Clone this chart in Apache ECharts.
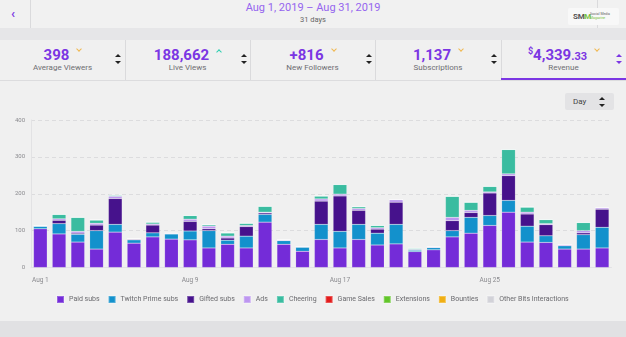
<!DOCTYPE html>
<html>
<head>
<meta charset="utf-8">
<script src="https://cdn.jsdelivr.net/npm/echarts@6/dist/echarts.min.js"></script>
<style>
  html,body{margin:0;padding:0;}
  body{width:626px;height:337px;position:relative;overflow:hidden;background:#efeff0;font-family:Roboto,"Liberation Sans",sans-serif;}
  .abs{position:absolute;}
  #hdr{left:0;top:0;width:626px;height:28px;background:#f1f1f1;box-shadow:0 1px 2px rgba(0,0,0,0.12);}
  #band1{left:0;top:28px;width:626px;height:12px;background:#e6e6e8;}
  #stats{left:0;top:40px;width:626px;height:40px;background:#f0f0f0;border-bottom:1px solid #dcdcde;}
  #chartbg{left:0;top:81px;width:626px;height:240px;background:#f0f0f0;}
  #band2{left:0;top:321px;width:626px;height:16px;background:#e1e1e3;}
  .vline{width:1px;background:#dadadc;}
  .cell{position:absolute;top:40px;height:40px;}
  .val{position:absolute;left:0;right:0;top:6px;text-align:center;font-weight:700;font-size:15px;line-height:18px;color:#7b36e3;white-space:nowrap;}
  .lab{position:absolute;left:0;right:0;top:23px;text-align:center;font-size:8px;line-height:10px;color:#6e6e72;white-space:nowrap;}
  .chev{display:inline-block;width:3px;height:3px;border-right:1.2px solid #f0b850;border-bottom:1.2px solid #f0b850;transform:rotate(45deg);vertical-align:top;margin-left:8px;margin-top:1px;}
  .chev.up{border-color:#2ccfb0;transform:rotate(-135deg);margin-top:4px;}
  .sort{position:absolute;width:6px;height:10px;}
  .sort:before,.sort:after{content:"";position:absolute;left:0;border-left:3px solid transparent;border-right:3px solid transparent;}
  .sort:before{top:0;border-bottom:3.5px solid #222;}
  .sort:after{bottom:0;border-top:3.5px solid #222;}
  .sort.p:before{border-bottom-color:#7b36e3;}
  .sort.p:after{border-top-color:#7b36e3;}
  #chart{left:0;top:0;width:626px;height:337px;}
</style>
</head>
<body>
<div id="hdr" class="abs"></div>
<div id="band1" class="abs"></div>
<div id="stats" class="abs"></div>
<div id="chartbg" class="abs"></div>
<div id="band2" class="abs"></div>

<div class="abs vline" style="left:30px;top:0;height:28px;"></div>
<div class="abs vline" style="left:597px;top:0;height:28px;"></div>
<div class="abs" style="left:11px;top:6px;font-size:13px;font-weight:700;color:#7b36e3;line-height:16px;">‹</div>
<div class="abs" style="left:150px;width:326px;top:1px;text-align:center;font-size:11px;line-height:14px;color:#9565ef;">Aug 1, 2019 – Aug 31, 2019</div>
<div class="abs" style="left:150px;width:326px;top:15px;text-align:center;font-size:7.5px;line-height:9px;color:#666;">31 days</div>
<div class="abs" style="left:568px;top:8px;width:51px;height:17px;background:#f8f8f8;border-radius:2px;"></div>
<div class="abs" style="left:573px;top:11px;font-size:8px;font-weight:700;line-height:11px;color:#555;letter-spacing:-0.3px;">SM<span style="color:#7cc242;">M</span></div>
<div class="abs" style="left:590px;top:12px;font-size:3.5px;line-height:4px;color:#666;">Social Media<br><span style="color:#7cc242;">Magazine</span></div>

<div class="cell" style="left:0;width:125px;"><div class="val">398<span class="chev"></span></div><div class="lab">Average Viewers</div></div>
<div class="cell" style="left:125px;width:125px;"><div class="val">188,662<span class="chev up"></span></div><div class="lab">Live Views</div></div>
<div class="cell" style="left:250px;width:125px;"><div class="val">+816<span class="chev"></span></div><div class="lab">New Followers</div></div>
<div class="cell" style="left:375px;width:126px;"><div class="val">1,137<span class="chev"></span></div><div class="lab">Subscriptions</div></div>
<div class="cell" style="left:501px;width:125px;"><div class="val"><span style="font-size:9px;vertical-align:top;line-height:11px;">$</span>4,339<span style="font-size:11px;">.33</span><span class="chev"></span></div><div class="lab">Revenue</div></div>
<div class="abs vline" style="left:125px;top:40px;height:40px;"></div>
<div class="abs vline" style="left:250px;top:40px;height:40px;"></div>
<div class="abs vline" style="left:375px;top:40px;height:40px;"></div>
<div class="abs vline" style="left:501px;top:40px;height:40px;"></div>
<div class="sort" style="left:115px;top:54px;"></div>
<div class="sort" style="left:241px;top:54px;"></div>
<div class="sort" style="left:366px;top:54px;"></div>
<div class="sort" style="left:491px;top:54px;"></div>
<div class="sort p" style="left:616px;top:54px;"></div>
<div class="abs" style="left:501px;top:78px;width:125px;height:2px;background:#7b36e3;"></div>

<div class="abs" style="left:565px;top:93px;width:49px;height:17px;background:#e3e3e5;border-radius:2px;"></div>
<div class="abs" style="left:573px;top:96px;font-size:8px;line-height:11px;color:#444;">Day</div>
<div class="sort" style="left:599px;top:97px;"></div>

<div id="chart" class="abs"></div>

<script>
const categories = ["Aug 1","Aug 2","Aug 3","Aug 4","Aug 5","Aug 6","Aug 7","Aug 8","Aug 9","Aug 10","Aug 11","Aug 12","Aug 13","Aug 14","Aug 15","Aug 16","Aug 17","Aug 18","Aug 19","Aug 20","Aug 21","Aug 22","Aug 23","Aug 24","Aug 25","Aug 26","Aug 27","Aug 28","Aug 29","Aug 30","Aug 31"];
const paidSubs   = [105,91,69,50,96,66,83,77,75,53,63,53,123,63,44,76,53,76,61,64,43,48,83,93,114,150,69,68,50,50,53];
const primeSubs  = [7,28,21,50,21,9,11,14,24,47,11,32,21,10,11,41,45,41,32,53,4,6,17,43,27,32,43,18,9,39,56];
const giftedSubs = [0,9,3,15,70,2,21,0,26,5,6,26,4,0,0,63,96,38,11,60,0,0,27,13,61,67,33,30,0,5,49];
const ads        = [1,4,5,5,6,1,3,2,6,7,5,3,2,2,2,6,5,5,4,7,2,2,9,6,3,5,5,3,3,6,4];
const cheering   = [0,12,38,9,3,0,5,0,10,4,9,6,16,0,0,8,26,5,6,0,3,0,57,22,15,66,14,11,0,22,0];
const gameSales  = [0,0,0,0,0,0,0,0,0,0,0,0,0,0,0,0,0,0,0,0,0,0,0,0,0,0,0,0,0,0,0];
const extensions = [0,0,0,0,0,0,0,0,0,0,0,0,0,0,0,0,0,0,0,0,0,0,0,0,0,0,0,0,0,0,0];
const bounties   = [0,0,0,0,0,0,0,0,0,0,0,0,0,0,0,0,0,0,0,0,0,0,0,0,0,0,0,0,0,0,0];
const otherBits  = [0,0,0,0,0,0,0,0,0,0,0,0,0,0,0,0,0,0,0,0,0,0,0,0,0,0,0,0,0,0,0];
const yTicks = [0,100,200,300,400];

const seriesDefs = [
  ["Paid subs", paidSubs, "#742cd8"],
  ["Twitch Prime subs", primeSubs, "#1391cc"],
  ["Gifted subs", giftedSubs, "#46128c"],
  ["Ads", ads, "#bd96f0"],
  ["Cheering", cheering, "#3abca0"],
  ["Game Sales", gameSales, "#e31c1c"],
  ["Extensions", extensions, "#62c52a"],
  ["Bounties", bounties, "#f0af14"],
  ["Other Bits Interactions", otherBits, "#d2d2d8"]
];

const chart = echarts.init(document.getElementById('chart'), null, {renderer:'canvas'});
chart.setOption({
  animation:false,
  backgroundColor:'transparent',
  textStyle:{fontFamily:'Roboto, "Liberation Sans", sans-serif'},
  grid:{left:31, right:14.5, top:120, bottom:69.5, containLabel:false},
  legend:{
    left:56, top:295, padding:0, itemWidth:7, itemHeight:7, itemGap:8, icon:'rect',
    textStyle:{fontSize:7, color:'#6a6a6e'},
    data: seriesDefs.map(d=>d[0])
  },
  xAxis:{
    type:'category', data:categories,
    axisLine:{show:true, lineStyle:{color:'#e2e2e4'}},
    axisTick:{show:false},
    axisLabel:{interval:7, fontSize:6.5, color:'#8a8a8e', margin:9}
  },
  yAxis:{
    type:'value', min:yTicks[0], max:yTicks[yTicks.length-1], interval:100,
    axisLine:{show:true, lineStyle:{color:'#e2e2e4'}},
    axisTick:{show:false},
    axisLabel:{fontSize:6, color:'#8a8a8e', margin:6},
    splitLine:{show:true, lineStyle:{color:'#dcdcde', type:[4,3]}}
  },
  series: seriesDefs.map(d=>({
    name:d[0], type:'bar', stack:'rev', data:d[1], barWidth:'73%',
    itemStyle:{color:d[2], borderColor:'rgba(255,255,255,0.25)', borderWidth:0.5},
    emphasis:{disabled:true}
  }))
});
</script>
</body>
</html>
